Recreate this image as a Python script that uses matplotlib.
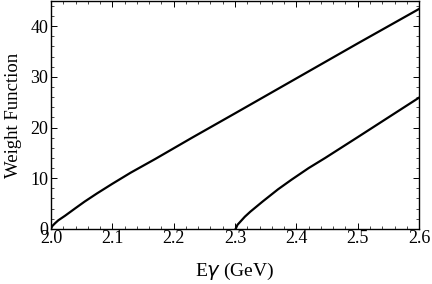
import matplotlib
matplotlib.use("Agg")
import matplotlib.pyplot as plt
from matplotlib.ticker import MultipleLocator

# Curve 1 (threshold 2.0 GeV)
e1 = [2.0, 2.002, 2.0065, 2.012, 2.023, 2.04, 2.055, 2.075, 2.1, 2.13, 2.17, 2.23, 2.3, 2.4, 2.5, 2.6]
w1 = [0.0, 0.55, 1.1, 1.7, 2.6, 4.1, 5.4, 7.0, 8.9, 11.1, 13.8, 18.0, 22.8, 29.7, 36.6, 43.4]
# Curve 2 (threshold 2.3 GeV)
e2 = [2.301, 2.304, 2.31, 2.316, 2.325, 2.345, 2.37, 2.392, 2.42, 2.447, 2.5, 2.55, 2.6]
w2 = [0.0, 0.8, 1.6, 2.4, 3.4, 5.4, 7.8, 9.7, 12.0, 14.0, 18.1, 22.0, 25.9]

xticks = [2.0, 2.1, 2.2, 2.3, 2.4, 2.5, 2.6]
yticks = [0, 10, 20, 30, 40]

plt.rcParams['font.family'] = ['Liberation Serif', 'DejaVu Serif']
fig = plt.figure(figsize=(4.32, 2.84), dpi=100)
ax = fig.add_axes([0.118, 0.194, 0.852, 0.803])
ax.plot(e1, w1, color='black', lw=1.6)
ax.plot(e2, w2, color='black', lw=1.6)
ax.set_xlim(2.0, 2.6)
ax.set_ylim(0, 45)
ax.set_xticks(xticks)
ax.set_xticklabels([f"{t:.1f}" for t in xticks])
ax.set_yticks(yticks)
ax.xaxis.set_minor_locator(MultipleLocator(0.02))
ax.yaxis.set_minor_locator(MultipleLocator(2))
ax.tick_params(which='both', direction='in', top=True, right=True, labelsize=13)
ax.tick_params(axis='x', pad=1)
ax.tick_params(axis='y', pad=2)
ax.tick_params(which='major', length=4, width=0.7)
ax.tick_params(which='minor', length=2, width=0.5)
for s in ax.spines.values():
    s.set_linewidth(1.0)
ax.set_xlabel('E$\\gamma$ (GeV)', fontsize=14, labelpad=10)
ax.set_ylabel('Weight Function', fontsize=13.5, labelpad=6)
fig.savefig('out.png', dpi=100)
